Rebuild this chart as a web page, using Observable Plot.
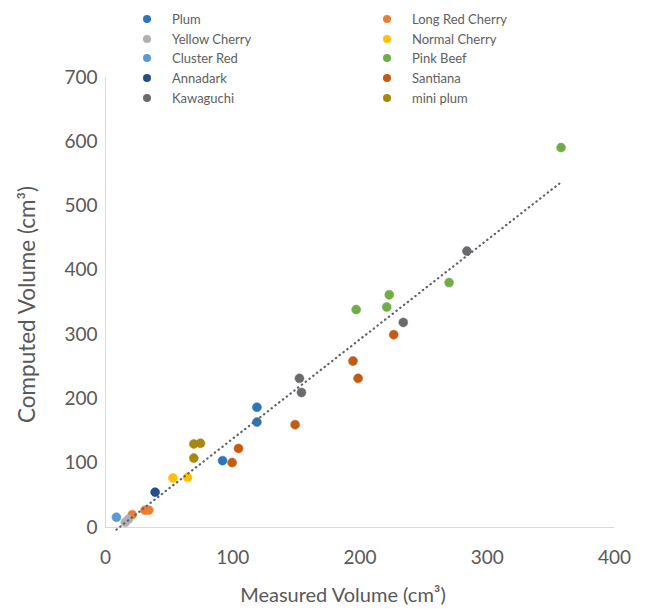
<!DOCTYPE html>
<html>
<head>
<meta charset="utf-8">
<script src="https://cdn.jsdelivr.net/npm/d3@7"></script>
<script src="https://cdn.jsdelivr.net/npm/@observablehq/plot@0.6"></script>
<style>
  body { margin: 0; background: #fff; }
  #wrap { position: relative; width: 656px; height: 609px; font-family: Lato, "Open Sans", sans-serif; }
  #legend { position: absolute; left: 143px; top: 9px; display: grid; grid-template-columns: 240px 200px; grid-auto-rows: 19.8px; font-size: 13px; color: #606060; }
  .item { display: flex; align-items: center; white-space: nowrap; }
  .sw { width: 8px; height: 8px; border-radius: 50%; margin-right: 21px; flex: none; }
</style>
</head>
<body>
<div id="wrap">
  <div id="chart"></div>
  <div id="legend"></div>
</div>
<script>
// Series (Excel order; legend fills row by row)
const seriesNames = ["Plum", "Long Red Cherry", "Yellow Cherry", "Normal Cherry", "Cluster Red",
                     "Pink Beef", "Annadark", "Santiana", "Kawaguchi", "mini plum"];
const seriesColors = ["#2E75B6", "#ED7D31", "#B0B0B0", "#FFC000", "#5B9BD5",
                      "#70AD47", "#264E86", "#C55A11", "#6B6B6B", "#A8870E"];

// [measured, computed] pairs per variety (cm³)
const plum          = [[119, 187], [119, 164], [92, 104]];
const longRedCherry = [[21, 20], [31, 27], [34, 27]];
const yellowCherry  = [[15.5, 8], [18, 13]];
const normalCherry  = [[53, 77], [64.5, 78]];
const clusterRed    = [[8.6, 16]];
const pinkBeef      = [[358, 591], [270, 381], [223, 362], [221, 343], [197, 339]];
const annadark      = [[39, 55]];
const santiana      = [[226.5, 300], [194.5, 259], [198.5, 232], [149, 160], [104.5, 123], [99.5, 101]];
const kawaguchi     = [[284, 430], [234, 319], [152.4, 232], [154, 210]];
const miniPlum      = [[69.4, 130], [74.6, 131], [69.4, 108]];

const xTicks = [0, 100, 200, 300, 400];
const yTicks = [0, 100, 200, 300, 400, 500, 600, 700];
const xTitle = ["Measured Volume (cm³)"];
const yTitle = ["Computed Volume (cm³)"];

const seriesData = [plum, longRedCherry, yellowCherry, normalCherry, clusterRed,
                    pinkBeef, annadark, santiana, kawaguchi, miniPlum];
const points = seriesData.flatMap((arr, i) => arr.map(([x, y]) => ({series: seriesNames[i], x, y})));

const chart = Plot.plot({
  width: 656,
  height: 609,
  marginLeft: 105,
  marginRight: 42,
  marginTop: 77,
  marginBottom: 82,
  style: {fontFamily: "Lato, 'Open Sans', sans-serif", fontSize: "19px", color: "#595959", background: "#fff"},
  x: {domain: [0, 400]},
  y: {domain: [0, 700]},
  color: {domain: seriesNames, range: seriesColors},
  marks: [
    Plot.ruleX([0], {stroke: "#D9D9D9", strokeWidth: 1}),
    Plot.ruleY([0], {stroke: "#D9D9D9", strokeWidth: 1}),
    Plot.axisX({ticks: xTicks, tickSize: 0, tickPadding: 23, label: null, fontSize: 19}),
    Plot.axisY({ticks: yTicks, tickSize: 0, tickPadding: 8, label: null, fontSize: 19}),
    Plot.dot(points, {x: "x", y: "y", fill: "series", r: 4.5, stroke: "series", strokeWidth: 0.5}),
    Plot.linearRegressionY(points, {x: "x", y: "y", ci: 0, stroke: "#5C6070", strokeWidth: 2.2,
      strokeDasharray: "0.4,4.4", strokeLinecap: "round"}),
    Plot.text(yTitle, {frameAnchor: "left", textAnchor: "middle", lineAnchor: "middle", dx: -78, dy: 2, rotate: -90, fontSize: 22.5, fill: "#595959"}),
    Plot.text(xTitle, {frameAnchor: "bottom", textAnchor: "middle", lineAnchor: "middle", dx: -17, dy: 68, fontSize: 20, fill: "#595959"})
  ]
});
document.getElementById("chart").appendChild(chart);

const legend = document.getElementById("legend");
seriesNames.forEach((name, i) => {
  const item = document.createElement("div");
  item.className = "item";
  const sw = document.createElement("span");
  sw.className = "sw";
  sw.style.background = seriesColors[i];
  const label = document.createElement("span");
  label.textContent = name;
  item.appendChild(sw);
  item.appendChild(label);
  legend.appendChild(item);
});
</script>
</body>
</html>
